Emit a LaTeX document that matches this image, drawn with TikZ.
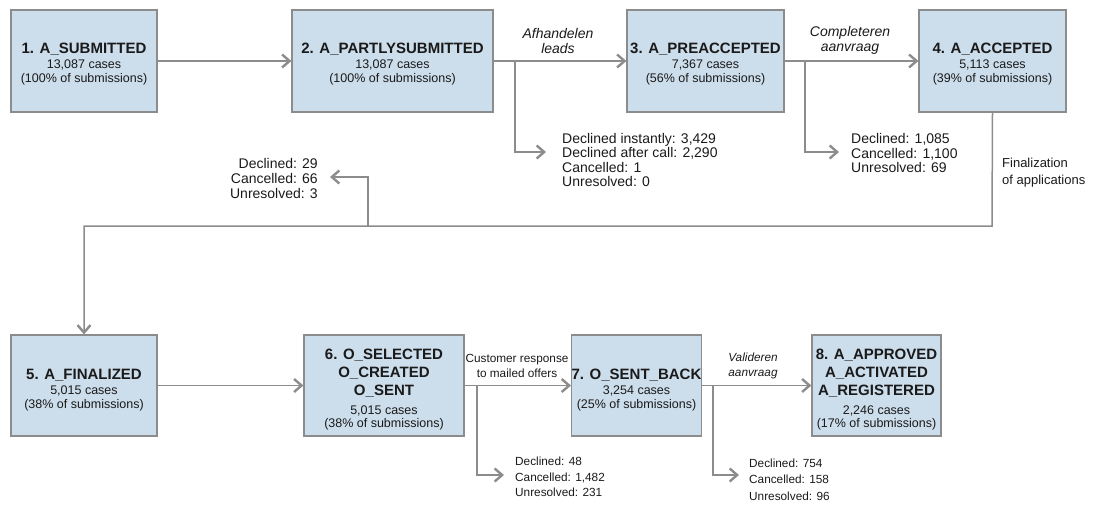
\documentclass[tikz,border=0pt]{standalone}
\usepackage{fontspec}
\setmainfont{Liberation Sans}
\usetikzlibrary{arrows.meta}
\definecolor{boxfill}{HTML}{CCDDEB}
\definecolor{edgegray}{HTML}{8C8C8C}
\definecolor{txt}{HTML}{1A1A1A}
\newcommand\stagetitle[1]{{\fontsize{15}{18}\selectfont\bfseries #1}}
% invisible struts that push a stage's text block slightly downwards
\newcommand\toppush{\rule{0pt}{16pt}}
\newcommand\botpush{\rule{0pt}{19pt}}

\begin{document}
\begin{tikzpicture}[x=1pt,y=-1pt,
  stage/.style={draw=edgegray, line width=1.2pt, fill=boxfill, align=center,
    inner sep=0pt, minimum height=102pt, text=txt,
    font=\fontsize{12.5}{13.5}\selectfont},
  flow/.style={draw=edgegray, line width=1.5pt,
    -{Straight Barb[length=7.5pt,width=13pt,line width=2.4pt]}},
  steplabel/.style={align=center, inner sep=0pt, text=txt, font=\fontsize{14}{15}\selectfont\itshape},
  outtop/.style={align=left, inner sep=0pt, text=txt, font=\fontsize{14}{14.5}\selectfont},
  outbot/.style={align=left, inner sep=0pt, text=txt, font=\fontsize{11.8}{15.5}\selectfont},
]
\useasboundingbox (0,0) rectangle (1093,507);

% ---- upper row of stages
\node[stage, minimum width=146pt] (b1) at (84,61)
  {\toppush\stagetitle{1. A\_SUBMITTED}\\[2pt]13,087 cases\\(100\% of submissions)};
\node[stage, minimum width=201pt] (b2) at (392.5,61)
  {\toppush\stagetitle{2. A\_PARTLYSUBMITTED}\\[2pt]13,087 cases\\(100\% of submissions)};
\node[stage, minimum width=157pt] (b3) at (705.5,61)
  {\toppush\stagetitle{3. A\_PREACCEPTED}\\[2pt]7,367 cases\\(56\% of submissions)};
\node[stage, minimum width=147pt] (b4) at (992.5,61)
  {\toppush\stagetitle{4. A\_ACCEPTED}\\[2pt]5,113 cases\\(39\% of submissions)};

% ---- lower row of stages
\node[stage, minimum width=146pt, minimum height=101pt] (b5) at (84,385.5)
  {\botpush\stagetitle{5. A\_FINALIZED}\\[2pt]5,015 cases\\(38\% of submissions)};
\node[stage, minimum width=160pt, minimum height=101pt] (b6) at (384,385.5)
  {\botpush\stagetitle{6. O\_SELECTED}\\[5pt]\stagetitle{O\_CREATED}\\[4.5pt]\stagetitle{O\_SENT}\\[5pt]5,015 cases\\(38\% of submissions)};
\node[stage, minimum width=117pt, minimum height=101pt] (b7) at (636.5,385.5)
  {\botpush\stagetitle{7. O\_SENT\_BACK}\\[2pt]3,254 cases\\(25\% of submissions)};
\node[stage, minimum width=129pt, minimum height=101pt] (b8) at (876.5,385.5)
  {\botpush\stagetitle{8. A\_APPROVED}\\[5pt]\stagetitle{A\_ACTIVATED}\\[4.5pt]\stagetitle{A\_REGISTERED}\\[5pt]2,246 cases\\(17\% of submissions)};

% ---- transition labels
\node[steplabel] (l23) at (558,40.5) {Afhandelen\\leads};
\node[steplabel] (l34) at (850,40.5) {Completeren\\aanvraag};
\node[steplabel, font=\fontsize{13}{16.5}\selectfont, align=left, anchor=west] (l45) at (1002,172.5)
  {Finalization\\of applications};
\node[steplabel, font=\fontsize{11.8}{15}\selectfont] (l67) at (517,366)
  {Customer response\\to mailed offers};
\node[steplabel, font=\fontsize{11.8}{15}\selectfont\itshape] (l78) at (753,366)
  {Valideren\\aanvraag};

% ---- drop-out counts
\node[outtop, anchor=west] (o2) at (562,160)
  {Declined instantly: 3,429\\Declined after call: 2,290\\Cancelled: 1\\Unresolved: 0};
\node[outtop, anchor=west] (o3) at (851,153)
  {Declined: 1,085\\Cancelled: 1,100\\Unresolved: 69};
\node[outtop, font=\fontsize{14}{15}\selectfont, align=right, anchor=east] (o4) at (318,178)
  {Declined: 29\\Cancelled: 66\\Unresolved: 3};
\node[outbot, anchor=west] (o6) at (515,477)
  {Declined: 48\\Cancelled: 1,482\\Unresolved: 231};
\node[outbot, font=\fontsize{11.8}{16.5}\selectfont, anchor=west] (o7) at (749,479.5)
  {Declined: 754\\Cancelled: 158\\Unresolved: 96};

% ---- junctions and arrow ends of the drop-out branches
\coordinate (j2) at (515,61);   \coordinate (t2) at (546,152);
\coordinate (j3) at (805,61);   \coordinate (t3) at (839,152);
\coordinate (j4) at (368,226);  \coordinate (t4) at (330,177);
\coordinate (j6) at (477,386);  \coordinate (t6) at (504,475);
\coordinate (j7) at (713,386);  \coordinate (t7) at (739,475);
\coordinate (k4) at (992,226);

% ---- main flow
\draw[flow] (b1) -- (b2);
\draw[flow] (b2) -- (b3);
\draw[flow] (b3) -- (b4);
\draw[flow] (b4.south) -- (k4) -| (b5.north);
\draw[flow] (b5) -- (b6);
\draw[flow] (b6) -- (b7);
\draw[flow] (b7) -- (b8);

% ---- drop-out branches
\draw[flow] (j2) |- (t2);
\draw[flow] (j3) |- (t3);
\draw[flow] (j4) |- (t4);
\draw[flow] (j6) |- (t6);
\draw[flow] (j7) |- (t7);
\end{tikzpicture}
\end{document}
